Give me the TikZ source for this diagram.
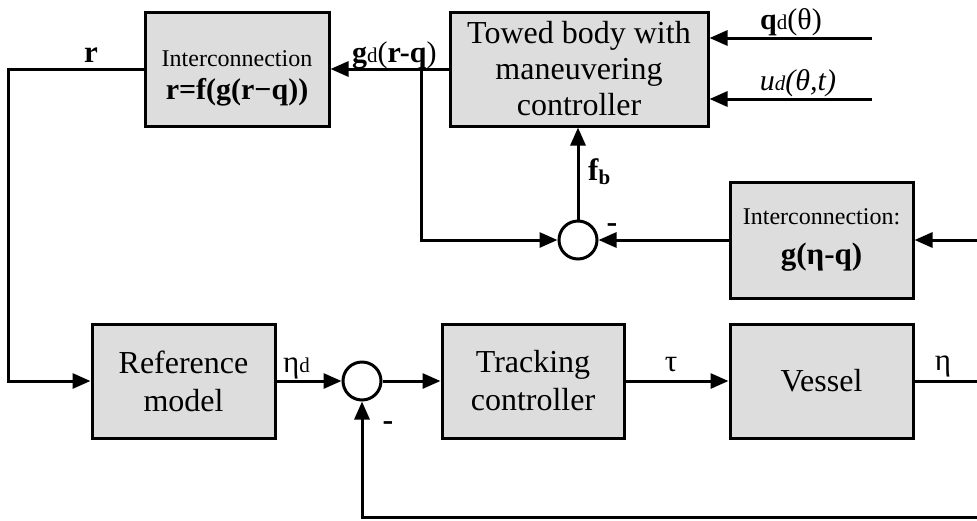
\documentclass[tikz,border=0pt]{standalone}
\usepackage{fontspec}
\setmainfont{Liberation Serif}
\usetikzlibrary{arrows.meta,calc}
\definecolor{boxfill}{RGB}{221,221,221}
\newcommand{\bigf}{\fontsize{32}{36}\selectfont}
\newcommand{\smallf}{\fontsize{24}{28}\selectfont}
\newcommand{\subf}{\fontsize{21}{21}\selectfont}
\tikzset{
  blk/.style={draw=black, fill=boxfill, line width=3pt, minimum height=114pt, inner sep=0pt, align=center},
  sumc/.style={draw=black, fill=white, circle, line width=3pt, minimum size=38pt, inner sep=0pt},
  arr/.style={line width=3pt, -{Triangle[length=18pt,width=15pt]}},
  ln/.style={line width=3pt},
  lbl/.style={inner sep=0pt, font=\bigf},
}
\begin{document}
\begin{tikzpicture}[x=1pt,y=-1pt]
\useasboundingbox (0,0) rectangle (977,520);
% blocks
\node[blk, minimum width=184pt, font=\fontsize{30}{33}\selectfont] (ic1) at (237,69) {\rule{0pt}{34pt}{\smallf Interconnection}\\{\bfseries r=f(g(r−q))}};
\node[blk, minimum width=258pt, font=\fontsize{32}{36}\selectfont] (towed) at (579,69) {Towed body with\\maneuvering\\controller};
\node[blk, minimum width=183pt, minimum height=116pt, font=\fontsize{31}{40}\selectfont] (ic2) at (821.5,240) {{\smallf Interconnection:}\\{\bfseries g(η-q)}};
\node[blk, minimum width=183pt, font=\fontsize{32}{38}\selectfont] (ref) at (183.5,381) {Reference\\model};
\node[blk, minimum width=182pt, font=\fontsize{32}{38}\selectfont] (track) at (533,381) {Tracking\\controller};
\node[blk, minimum width=183pt, font=\bigf] (vessel) at (821.5,381) {Vessel};
\node[sumc] (s1) at (578,240) {};
\node[sumc] (s2) at (362,381) {};
% free ends
\coordinate (br) at (421,69);
\coordinate (lft) at (8,200);
\coordinate (qd) at (872,38);
\coordinate (ud) at (872,99);
\coordinate (inR) at (977,240);
\coordinate (outR) at (977,381);
\coordinate (fbR) at (977,517);
% connectors
\draw[arr] (towed.west) -- (ic1.east);
\draw[arr] (br) |- (s1.west);
\draw[arr] (ic2.west) -- (s1.east);
\draw[arr] (s1.north) -- (s1.north |- towed.south);
\draw[arr] (inR) -- (ic2.east);
\draw[arr] (qd) -- (qd -| towed.east);
\draw[arr] (ud) -- (ud -| towed.east);
\draw[arr] (ic1.west) -| (lft) |- (ref.west);
\draw[arr] (ref.east) -- (s2.west);
\draw[arr] (s2.east) -- (track.west);
\draw[arr] (track.east) -- (vessel.west);
\draw[ln] (vessel.east) -- (outR);
\draw[arr] (fbR) -| (s2.south);
% labels
\node[lbl, anchor=base, font=\fontsize{31}{34}\selectfont\bfseries] (lr) at (91,62) {r};
\node[lbl, anchor=base west, font=\fontsize{30}{34}\selectfont] (lgd) at (352,62) {\textbf{g}{\subf d}(\textbf{r-q})};
\node[lbl, anchor=base, font=\fontsize{30}{34}\selectfont] (lqd) at (791,29) {\textbf{q}{\subf d}(θ)};
\node[lbl, anchor=base, font=\fontsize{30}{34}\selectfont\itshape] (lud) at (798,90) {u{\subf d}(θ,t)};
\node[lbl, anchor=base west, font=\fontsize{31}{34}\selectfont\bfseries] (lfb) at (588,180) {f\raisebox{-4pt}{\subf b}};
\node[lbl, anchor=base, font=\fontsize{32}{34}\selectfont\bfseries] (m1) at (612,232) {-};
\node[lbl, anchor=base west, font=\fontsize{31}{34}\selectfont] (led) at (283,372) {η{\subf d}};
\node[lbl, anchor=base, font=\fontsize{32}{34}\selectfont\bfseries] (m2) at (388,430) {-};
\node[lbl, anchor=base, font=\fontsize{31}{34}\selectfont] (ltau) at (671,371) {τ};
\node[lbl, anchor=base, font=\fontsize{31}{34}\selectfont] (leta) at (943,370) {η};
\end{tikzpicture}
\end{document}
